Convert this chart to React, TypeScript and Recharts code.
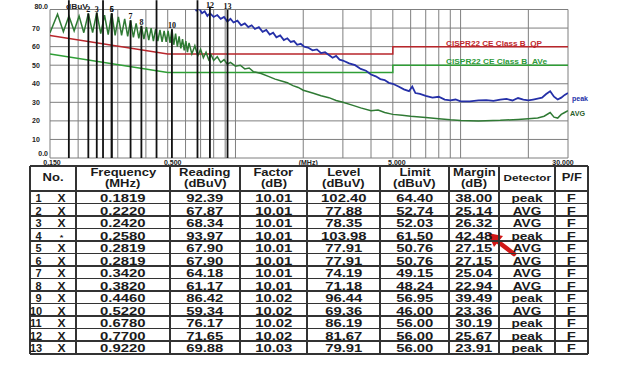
import { CartesianGrid, ComposedChart, Line, ReferenceDot, ReferenceLine, XAxis, YAxis } from "recharts";

// grid / axis ticks
const gridFreqs = [0.15, 0.2, 0.3, 0.4, 0.5, 0.6, 0.7, 0.8, 0.9, 1, 2, 3, 4, 5, 6, 7, 8, 9, 10, 20, 30];
const levelTicks = [0, 10, 20, 30, 40, 50, 60, 70, 80];
const freqTickText: Record<number, string> = { 0.15: "0.150", 0.5: "0.500", 2: "(MHz)", 5: "5.000", 30: "30.000" };

// AVG trace (MHz, dBuV)
const avgTraceFreq = [
  0.15, 0.162, 0.172, 0.182, 0.192, 0.202, 0.212, 0.222, 0.232, 0.242, 0.252, 0.262, 0.272, 0.282, 0.292, 0.302,
  0.312, 0.322, 0.332, 0.342, 0.352, 0.362, 0.372, 0.382, 0.392, 0.402, 0.412, 0.422, 0.432, 0.442, 0.452, 0.462,
  0.472, 0.482, 0.492, 0.502, 0.512, 0.522, 0.532, 0.542, 0.552, 0.562, 0.572, 0.582, 0.592, 0.602, 0.612, 0.622,
  0.64, 0.66, 0.68, 0.7, 0.72, 0.74, 0.76, 0.78, 0.8, 0.83, 0.86, 0.89, 0.92, 0.95, 1.0, 1.05, 1.1, 1.15, 1.2, 1.3,
  1.4, 1.5, 1.6, 1.7, 1.8, 1.9, 2.0, 2.2, 2.4, 2.6, 2.8, 3.0, 3.3, 3.6, 4.0, 4.3, 4.6, 5.0, 5.5, 6.0, 7.0, 8.0, 9.0,
  10, 12, 15, 18, 20, 22, 23.5, 25, 26, 27, 28, 29, 30,
];
const avgTraceLevel = [
  67.5, 77.5, 68, 76.5, 68.5, 76.5, 67.5, 77.9, 67.5, 78.3, 67, 77, 66.5, 77.9, 66, 76,
  66, 75, 65.5, 74.2, 65, 72.5, 64.5, 71.2, 64, 70.5, 63.5, 70, 63, 69.5, 63, 69,
  62.5, 68.5, 62.5, 68.5, 62, 69.4, 61, 67, 60, 65.5, 59, 64, 58, 63, 57, 62,
  56, 60.5, 55, 58.5, 54, 57, 53, 55.5, 52.5, 54.5, 51.5, 53, 50.5, 51.5, 49.5, 50, 48, 48.5, 46.5, 45.5,
  44, 42.5, 41.5, 40.5, 39, 38, 36.5, 35, 33.5, 32.5, 31, 30, 28.5, 27, 25.5, 25.8, 24.5, 23.5, 23, 22.5, 21.8, 21.2, 20.6,
  20.2, 20, 20.3, 20.8, 21.2, 21.6, 22.5, 24.5, 22, 21.5, 23.5, 24.5, 25.5,
];

// Peak trace (MHz, dBuV)
const peakTraceFreq = [
  0.15, 0.2, 0.26, 0.35, 0.45, 0.55, 0.58, 0.61, 0.63, 0.65, 0.67, 0.69, 0.71, 0.73, 0.75, 0.77, 0.8, 0.83, 0.86,
  0.89, 0.92, 0.95, 0.98, 1.02, 1.06, 1.1, 1.14, 1.18, 1.22, 1.27, 1.32, 1.37, 1.42, 1.47, 1.52, 1.58, 1.64, 1.7,
  1.76, 1.82, 1.88, 1.95, 2.02, 2.1, 2.2, 2.3, 2.4, 2.5, 2.6, 2.7, 2.8, 2.9, 3.0, 3.2, 3.4, 3.6, 3.8, 4.0, 4.2, 4.4,
  4.6, 4.8, 5.0, 5.3, 5.6, 5.9, 6.1, 6.3, 6.6, 7.0, 7.5, 8.0, 8.5, 9.0, 9.5, 10, 11, 12, 13, 14, 15, 16, 17, 18, 19,
  20, 21, 22, 23, 24, 25, 26, 27, 28, 29, 30,
];
const peakTraceLevel = [
  97, 99, 100, 97, 95, 89, 86, 82.5, 81, 82, 79.5, 80.5, 78, 79, 76.5, 78, 76, 77, 75,
  76, 73.5, 75, 73, 74, 71.5, 72.5, 70.5, 71.5, 69.5, 70.5, 68, 69, 66.5, 67.5, 65, 66, 63.5, 64.5,
  62.5, 63, 61, 61.5, 60, 59.5, 58, 58.5, 56.5, 57, 55.5, 54, 55, 53, 52.5, 51, 50, 48, 47, 45, 44, 42.5,
  42, 40.5, 40, 38.5, 37, 36, 38.5, 35, 34.5, 33.5, 32.5, 33, 31.5, 31, 31.5, 30.5, 30.5, 31, 31.2, 30.8, 31.5, 31.8, 31, 32.3, 31.5,
  31, 31.5, 32, 32.5, 34.5, 36, 33, 31.5, 32.5, 34, 35,
];

// CISPR22 Class B limits
const qpLimitFreq = [0.15, 0.5, 5, 5, 30];
const qpLimitLevel = [66, 56, 56, 60, 60];
const avLimitFreq = [0.15, 0.5, 5, 5, 30];
const avLimitLevel = [56, 46, 46, 50, 50];

// marker table
const markerNo = [1, 2, 3, 4, 5, 6, 7, 8, 9, 10, 11, 12, 13];
const markerFlag = ["X", "X", "X", "*", "X", "X", "X", "X", "X", "X", "X", "X", "X"];
const markerFreq = [0.1819, 0.222, 0.242, 0.258, 0.2819, 0.2819, 0.342, 0.382, 0.446, 0.522, 0.678, 0.77, 0.922];
const markerReading = [92.39, 67.87, 68.34, 93.97, 67.9, 67.9, 64.18, 61.17, 86.42, 59.34, 76.17, 71.65, 69.88];
const markerFactor = [10.01, 10.01, 10.01, 10.01, 10.01, 10.01, 10.01, 10.01, 10.02, 10.02, 10.02, 10.02, 10.03];
const markerLevel = [102.4, 77.88, 78.35, 103.98, 77.91, 77.91, 74.19, 71.18, 96.44, 69.36, 86.19, 81.67, 79.91];
const markerLimit = [64.4, 52.74, 52.03, 61.5, 50.76, 50.76, 49.15, 48.24, 56.95, 46.0, 56.0, 56.0, 56.0];
const markerMargin = [38.0, 25.14, 26.32, 42.48, 27.15, 27.15, 25.04, 22.94, 39.49, 23.36, 30.19, 25.67, 23.91];
const markerDetector = ["peak", "AVG", "AVG", "peak", "AVG", "AVG", "AVG", "AVG", "peak", "AVG", "peak", "peak", "peak"];
const markerPF = ["F", "F", "F", "F", "F", "F", "F", "F", "F", "F", "F", "F", "F"];

const toSeries = (fs: number[], vs: number[]) => fs.map((f, i) => ({ f, v: vs[i] }));
const avgTrace = toSeries(avgTraceFreq, avgTraceLevel);
const peakTrace = toSeries(peakTraceFreq, peakTraceLevel);
const qpLimit = toSeries(qpLimitFreq, qpLimitLevel);
const avLimit = toSeries(avLimitFreq, avLimitLevel);

const FONT = "'Liberation Sans', Arial, sans-serif";

// eslint-disable-next-line @typescript-eslint/no-explicit-any
const YTick = ({ y, payload }: any) => {
  const v = payload.value;
  const edge = v === 0 || v === 80;
  const label = v === 0 ? "0.0" : v === 80 ? "80.0" : String(v);
  return (
    <text x={edge ? 48 : 36} y={y} dy={v === 80 ? -0.5 : v === 0 ? -2.5 : 2.5} textAnchor={edge ? "end" : "middle"}
      fontSize={7} fontWeight="bold" fill="#222" fontFamily={FONT}>
      {label}
    </text>
  );
};

// eslint-disable-next-line @typescript-eslint/no-explicit-any
const XTick = ({ x, payload }: any) => {
  const label = freqTickText[payload.value];
  if (!label) return null;
  const shift: Record<number, number> = { 0.15: 2, 0.5: 5, 2: 5, 5: 4, 30: -5 };
  return (
    <text x={x + (shift[payload.value] ?? 0)} y={164.5} textAnchor="middle" fontSize={7} fontWeight="bold"
      fill="#222" fontFamily={FONT}>
      {label}
    </text>
  );
};

function SpectrumChart() {
  return (
    <ComposedChart width={618} height={176} margin={{ top: 9.5, right: 50, left: 0, bottom: 0 }}>
      <CartesianGrid stroke="#7f7f7f" strokeWidth={1} />
      <XAxis dataKey="f" type="number" scale="log" domain={[0.15, 30]} ticks={gridFreqs} interval={0}
        allowDataOverflow tick={<XTick />} tickLine={false} axisLine={false} height={18} />
      <YAxis type="number" domain={[0, 80]} ticks={levelTicks} interval={0} allowDataOverflow width={50}
        tick={<YTick />} tickLine={false} axisLine={false} />
      <Line data={qpLimit} dataKey="v" stroke="#b8262b" strokeWidth={1.5} dot={false} isAnimationActive={false} />
      <Line data={avLimit} dataKey="v" stroke="#2f9e36" strokeWidth={1.5} dot={false} isAnimationActive={false} />
      <Line data={peakTrace} dataKey="v" stroke="#2530a8" strokeWidth={1.8} dot={false} isAnimationActive={false} />
      <Line data={avgTrace} dataKey="v" stroke="#2f7a34" strokeWidth={1.5} dot={false} isAnimationActive={false} />
      {markerFreq.map((f, i) => (
        <ReferenceLine key={`m${i}`} segment={[{ x: f, y: 0 }, { x: f, y: Math.min(markerLevel[i], 85) }]}
          stroke="#111" strokeWidth={1.8} ifOverflow="visible" />
      ))}
      {markerFreq.map((f, i) =>
        markerLevel[i] < 84 ? (
          <ReferenceDot key={`d${i}`} x={f} y={Math.min(markerLevel[i], 80.5)} r={0} fill="none" stroke="none" ifOverflow="visible"
            label={{ value: String(markerNo[i]), position: "top", offset: 1, fontSize: 8, fontWeight: "bold", fill: "#111" }} />
        ) : null
      )}
    </ComposedChart>
  );
}

function Annotations() {
  const t = { fontFamily: FONT, fontWeight: "bold" as const, lengthAdjust: "spacingAndGlyphs" };
  return (
    <svg width={618} height={376} style={{ position: "absolute", left: 0, top: 0, pointerEvents: "none" }}>
      <text x={66} y={8.5} fontSize={7} textLength={22} fill="#222" {...t}>dBuV</text>
      <text x={446} y={45.5} fontSize={7} textLength={96} fill="#c0282d" {...t}>CISPR22 CE Class B_QP</text>
      <text x={446} y={64} fontSize={7} textLength={101} fill="#2e9a3a" {...t}>CISPR22 CE Class B_AVe</text>
      <text x={572} y={101} fontSize={6.5} textLength={16} fill="#2230a8" {...t}>peak</text>
      <text x={570} y={116} fontSize={7} textLength={15} fill="#2b5e2b" {...t}>AVG</text>
      <line x1={514} y1={254} x2={497} y2={241} stroke="#d01818" strokeWidth={4.5} strokeLinecap="round" />
      <polygon points="488,233 503,236 494,247" fill="#d01818" />
    </svg>
  );
}

const colEdges = [30, 76, 170, 240, 307, 380, 449, 499, 555, 588];
const headers: string[][] = [
  ["No."], ["Frequency", "(MHz)"], ["Reading", "(dBuV)"], ["Factor", "(dB)"], ["Level", "(dBuV)"],
  ["Limit", "(dBuV)"], ["Margin", "(dB)"], ["Detector"], ["P/F"],
];

const Stretch = ({ children, size, sx = 1.35 }: { children: React.ReactNode; size: number; sx?: number }) => (
  <span style={{ display: "inline-block", transform: `scaleX(${sx})`, fontSize: size, whiteSpace: "nowrap" }}>{children}</span>
);

function MarkerTable() {
  const top = 166;
  const headH = 25;
  const rowH = 12.5;
  const bottom = top + headH + rowH * markerNo.length;
  const line = "#333";
  const cells: React.ReactNode[] = [];

  headers.forEach((h, c) => {
    cells.push(
      <div key={`h${c}`} style={{ position: "absolute", left: colEdges[c], width: colEdges[c + 1] - colEdges[c], top,
        height: headH, display: "flex", flexDirection: "column", alignItems: "center", justifyContent: "center", lineHeight: "10.5px" }}>
        {h.map((s) => <Stretch key={s} size={h.length === 1 && c === 7 ? 9 : 10} sx={1.3}>{s}</Stretch>)}
      </div>
    );
  });

  markerNo.forEach((n, r) => {
    const y = top + headH + r * rowH;
    const vals = [
      markerFreq[r].toFixed(4), markerReading[r].toFixed(2), markerFactor[r].toFixed(2), markerLevel[r].toFixed(2),
      markerLimit[r].toFixed(2), markerMargin[r].toFixed(2), markerDetector[r], markerPF[r],
    ];
    cells.push(
      <div key={`n${r}`} style={{ position: "absolute", left: colEdges[0], width: 12, top: y, height: rowH, lineHeight: `${rowH}px`, textAlign: "right" }}>
        <span style={{ display: "inline-block", transform: "scaleX(1.1)", transformOrigin: "right", fontSize: 10, whiteSpace: "nowrap" }}>{n}</span>
      </div>
    );
    cells.push(
      <div key={`f${r}`} style={{ position: "absolute", left: colEdges[0] + 24, width: 16, top: y, height: rowH, lineHeight: `${rowH}px`, textAlign: "center" }}>
        <Stretch size={markerFlag[r] === "*" ? 8 : 10.5} sx={1.15}>{markerFlag[r]}</Stretch>
      </div>
    );
    vals.forEach((v, c) => {
      cells.push(
        <div key={`c${r}-${c}`} style={{ position: "absolute", left: colEdges[c + 1], width: colEdges[c + 2] - colEdges[c + 1], top: y,
          height: rowH, lineHeight: `${rowH}px`, textAlign: "center" }}>
          <Stretch size={c === 6 ? 10.5 : 11} sx={c === 6 ? 1.3 : 1.35}>{v}</Stretch>
        </div>
      );
    });
  });

  const rules: React.ReactNode[] = [];
  colEdges.forEach((x, i) => {
    const w = i === 0 || i === colEdges.length - 1 ? 2 : 1.5;
    rules.push(<div key={`v${i}`} style={{ position: "absolute", left: x - w / 2, top, width: w, height: bottom - top, background: line }} />);
  });
  for (let k = 0; k <= markerNo.length + 1; k++) {
    const y = k === 0 ? top : top + headH + (k - 1) * rowH;
    const w = k === 0 || k === markerNo.length + 1 ? 2 : 1.5;
    rules.push(<div key={`r${k}`} style={{ position: "absolute", left: colEdges[0], top: y - w / 2, width: colEdges[9] - colEdges[0], height: w, background: line }} />);
  }

  return (
    <div style={{ position: "absolute", left: 0, top: 0, width: 618, height: 376, fontFamily: FONT, fontWeight: "bold", color: "#1a1a1a" }}>
      {rules}
      {cells}
    </div>
  );
}

export default function App() {
  return (
    <div style={{ position: "absolute", left: 0, top: 0, width: 618, height: 376, background: "#fff", overflow: "hidden" }}>
      <SpectrumChart />
      <Annotations />
      <MarkerTable />
    </div>
  );
}
